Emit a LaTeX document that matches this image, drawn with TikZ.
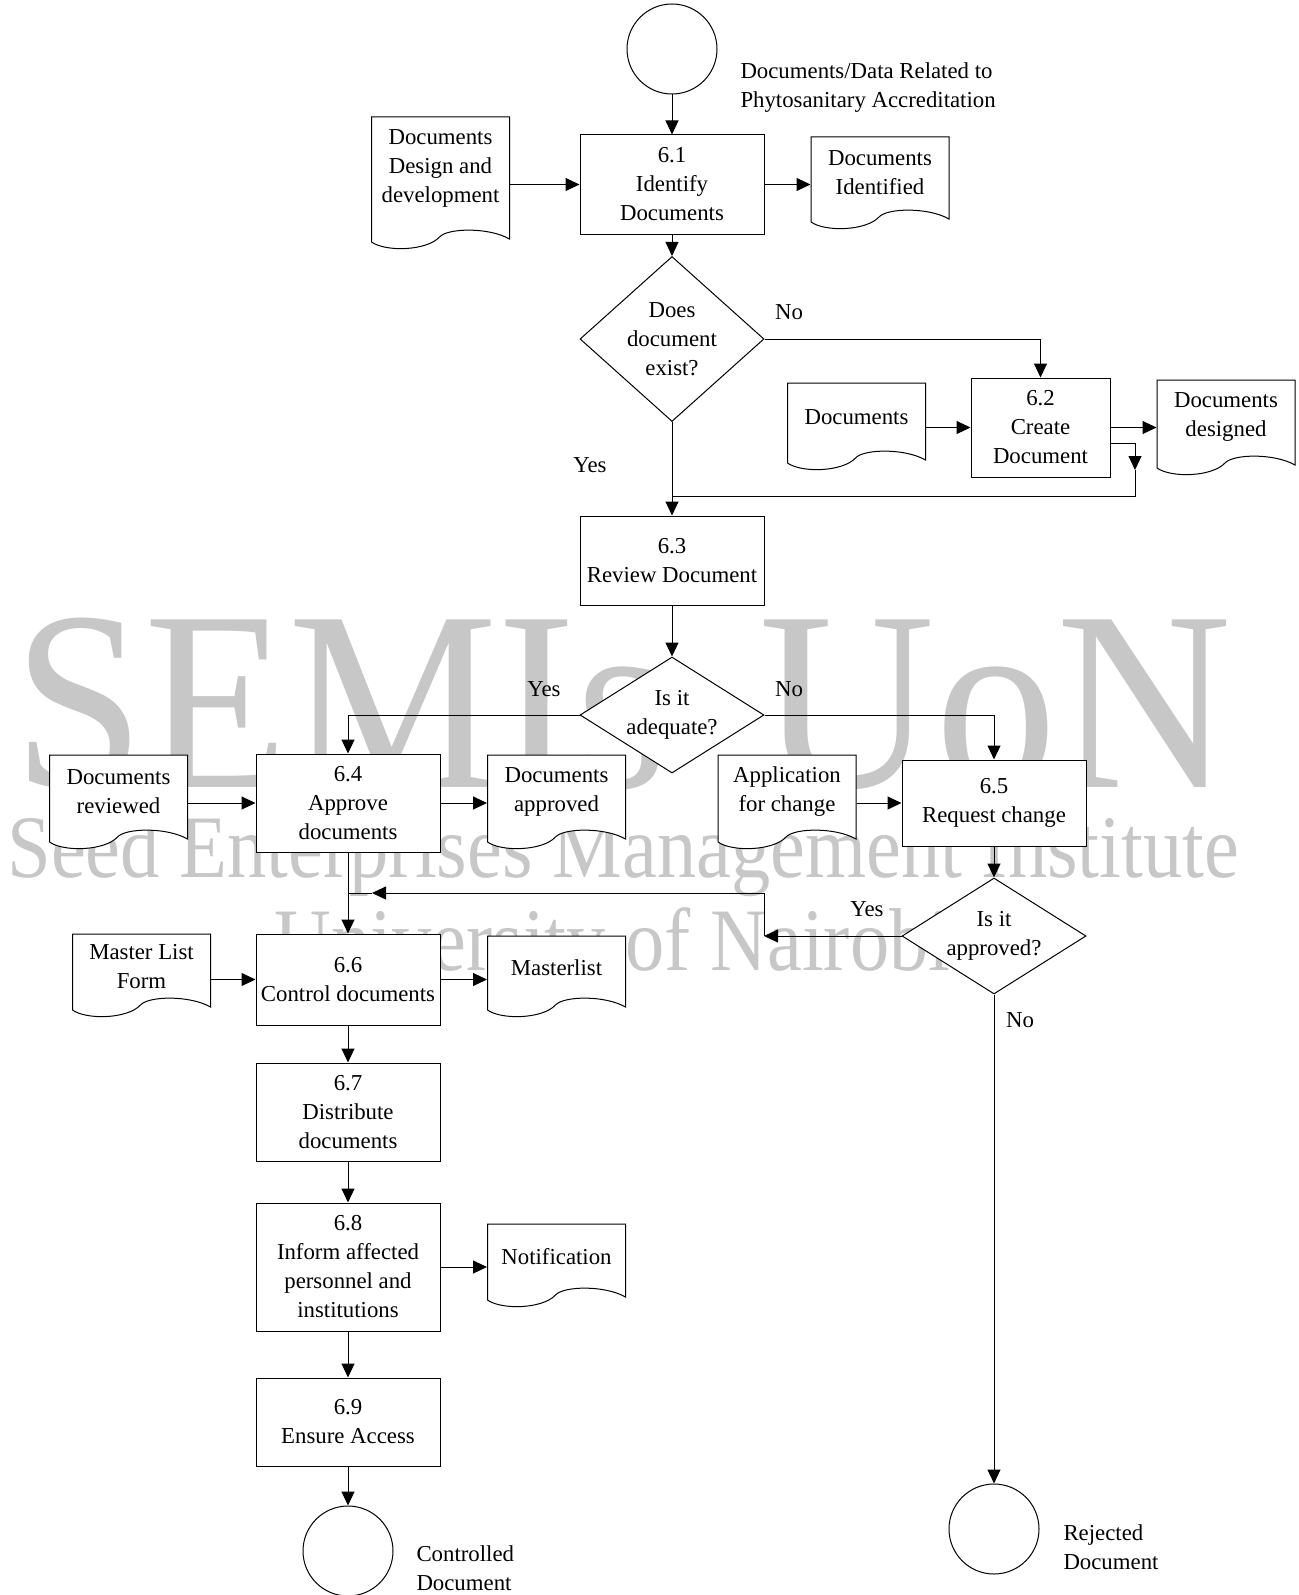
\documentclass[tikz,border=0pt]{standalone}
\usepackage{fontspec}
\setmainfont{Liberation Serif}
\usepackage{graphicx}
\usetikzlibrary{shapes.geometric,arrows.meta}

% document symbol: name, centre x, top y, height, text
\newcommand{\docnode}[5]{%
\draw[docline] (#2+69,#3) -- (#2-69,#3) -- (#2-69,#3+#4-7)
  .. controls (#2-55,#3+#4+3) and (#2-14,#3+#4+2) .. (#2-1,#3+#4-12)
  .. controls (#2+7,#3+#4-21) and (#2+48,#3+#4-22) .. (#2+69,#3+#4-10) -- cycle;
\node[doc] (#1) at (#2,#3+0.39*#4) {#5};}

\begin{document}
\begin{tikzpicture}[x=0.5pt,y=-0.5pt,line width=0.5pt,
  font=\fontsize{11.4pt}{14.5pt}\selectfont,
  box/.style={draw,fill=white,align=center,inner sep=0pt,minimum width=92pt},
  dec/.style={draw,diamond,fill=white,align=center,inner sep=0pt,minimum width=92pt},
  term/.style={draw,circle,fill=white,minimum size=45pt,inner sep=0pt},
  doc/.style={align=center,inner sep=0pt,minimum width=69pt},
  docline/.style={draw,fill=white},
  termlbl/.style={align=left,anchor=west,inner sep=0pt},
  arr/.style={-{Triangle[length=7pt,width=6.5pt]}},
  wmark/.style={text=black!22,inner sep=0pt}]
\useasboundingbox (0,0) rectangle (1299,1595);

% watermark
\node[wmark,font=\fontsize{128pt}{128pt}\selectfont,anchor=base west] (wm1) at (13,787) {\scalebox{0.92}[1]{SEMIs}};
\node[wmark,font=\fontsize{128pt}{128pt}\selectfont,anchor=base east] (wm2) at (1233,787) {\scalebox{0.95}[1]{UoN}};
\node[wmark,font=\fontsize{44.6pt}{44.6pt}\selectfont,anchor=base west] (wm3) at (7,877) {\scalebox{0.88}[1]{Seed Enterprises Management Institute}};
\node[wmark,font=\fontsize{44.6pt}{44.6pt}\selectfont,anchor=base west] (wm4) at (274,970) {\scalebox{0.88}[1]{University of Nairobi}};

% process
\node[term] (start) at (672,49) {};
\node[termlbl] (startlbl) at (740,88) {Documents/Data Related to\\Phytosanitary Accreditation};
\node[box,minimum height=49.5pt] (b61) at (672,184.5) {6.1\\Identify\\Documents};
\node[dec,aspect=1.1,minimum height=82.5pt] (d1) at (672,339) {Does\\document\\exist?};
\node[box,minimum width=69.5pt,minimum height=49.5pt] (b62) at (1040.5,427.5) {6.2\\Create\\Document};
\node[box,minimum height=44.5pt] (b63) at (672,560.5) {6.3\\Review Document};
\node[dec,aspect=1.6,minimum height=58pt] (d2) at (672,715) {Is it\\adequate?};
\node[box,minimum height=49pt] (b64) at (348,803) {6.4\\Approve\\documents};
\node[box,minimum height=43pt] (b65) at (994,803) {6.5\\Request change};
\node[dec,aspect=1.6,minimum height=58pt] (d3) at (994,936) {Is it\\approved?};
\node[box,minimum height=45.5pt] (b66) at (348,979.5) {6.6\\Control documents};
\node[box,minimum height=49pt] (b67) at (348,1112) {6.7\\Distribute\\documents};
\node[box,minimum height=64pt] (b68) at (348,1267) {6.8\\Inform affected\\personnel and\\institutions};
\node[box,minimum height=44pt] (b69) at (348,1422) {6.9\\Ensure Access};
\node[term] (rej) at (994,1529) {};
\node[termlbl] (rejlbl) at (1063,1547) {Rejected\\Document};
\node[term] (ctl) at (348,1551) {};
\node[termlbl] (ctllbl) at (416,1568) {Controlled\\Document};

% documents
\docnode{dd}{440.5}{117}{132}{Documents\\Design and\\development}
\docnode{di}{880}{137}{92}{Documents\\Identified}
\docnode{dc}{856.5}{383}{87}{Documents}
\docnode{dg}{1226}{380}{95}{Documents\\designed}
\docnode{dr}{118.5}{755}{94}{Documents\\reviewed}
\docnode{da}{556.5}{755}{94}{Documents\\approved}
\docnode{af}{787}{755}{94}{Application\\for change}
\docnode{ml}{141.5}{934}{83}{Master List\\Form}
\docnode{mf}{556.5}{936}{81}{Masterlist}
\docnode{nt}{556.5}{1224}{83}{Notification}

% labels
\node (no1) at (789,312) {No};
\node (yes1) at (590,465) {Yes};
\node (yes2) at (544,689) {Yes};
\node (no2) at (789,689) {No};
\node (yes3) at (867,909) {Yes};
\node (no3) at (1020,1020) {No};

\coordinate (fb1) at (1135,443);
\coordinate (fb2) at (1135,470);
\coordinate (fb3) at (1135,496);
\coordinate (ap1) at (764,936);
\coordinate (ap2) at (764,893);
\coordinate (ap3) at (372,893);

\draw[arr] (start) -- (b61);
\draw[arr] (dd.east |- b61.west) -- (b61.west);
\draw[arr] (b61.east) -- (di.west |- b61.east);
\draw[arr] (b61) -- (d1);
\draw[arr] (d1.east) -| (b62.north);
\draw[arr] (dc.east |- b62.west) -- (b62.west);
\draw[arr] (b62.east) -- (dg.west |- b62.east);
\draw[arr] (b62.east |- fb1) -- (fb1) -- (fb2);
\draw (fb2) -- (fb3) -- (b63.north |- fb3);
\draw[arr] (d1) -- (b63);
\draw[arr] (b63) -- (d2);
\draw[arr] (d2.west) -| (b64.north);
\draw[arr] (d2.east) -| (b65.north);
\draw[arr] (dr.east |- b64.west) -- (b64.west);
\draw[arr] (b64.east) -- (da.west |- b64.east);
\draw[arr] (af.east |- b65.west) -- (b65.west);
\draw[arr] (b65) -- (d3);
\draw[arr] (d3.west) -- (ap1);
\draw[arr] (ap1) -- (ap2) -- (ap3);
\draw (ap3) -- (b64.south |- ap3);
\draw[arr] (b64) -- (b66);
\draw[arr] (d3) -- (rej);
\draw[arr] (ml.east |- b66.west) -- (b66.west);
\draw[arr] (b66.east) -- (mf.west |- b66.east);
\draw[arr] (b66) -- (b67);
\draw[arr] (b67) -- (b68);
\draw[arr] (b68) -- (b69);
\draw[arr] (b68.east) -- (nt.west |- b68.east);
\draw[arr] (b69) -- (ctl);
\end{tikzpicture}
\end{document}
